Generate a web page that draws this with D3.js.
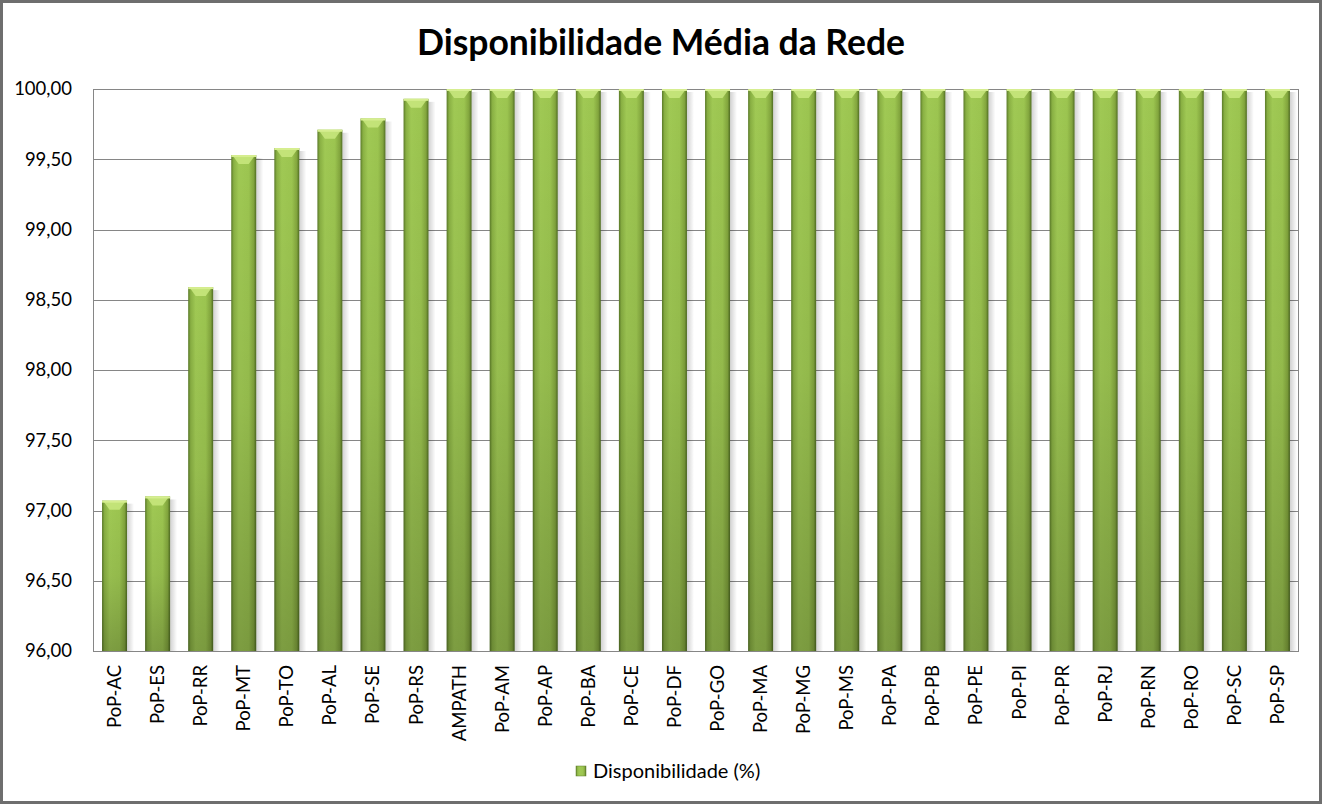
<!DOCTYPE html>
<html><head><meta charset="utf-8">
<script src="https://cdn.jsdelivr.net/npm/d3@7"></script>
<style>body{margin:0;background:#fff}svg{display:block}</style>
</head><body>
<script>
const categories = ["PoP-AC","PoP-ES","PoP-RR","PoP-MT","PoP-TO","PoP-AL","PoP-SE","PoP-RS","AMPATH","PoP-AM","PoP-AP","PoP-BA","PoP-CE","PoP-DF","PoP-GO","PoP-MA","PoP-MG","PoP-MS","PoP-PA","PoP-PB","PoP-PE","PoP-PI","PoP-PR","PoP-RJ","PoP-RN","PoP-RO","PoP-SC","PoP-SP"];
const values = [97.07,97.10,98.59,99.53,99.58,99.71,99.79,99.93,100,100,100,100,100,100,100,100,100,100,100,100,100,100,100,100,100,100,100,100];
const yTicks = [96,96.5,97,97.5,98,98.5,99,99.5,100];
const seriesName = "Disponibilidade (%)";
const title = "Disponibilidade Média da Rede";

const W=1324,H=806;
const svg=d3.select("body").append("svg").attr("width",W).attr("height",H);
const defs=svg.append("defs");
const hg=defs.append("linearGradient").attr("id","hg").attr("x1",0).attr("x2",1).attr("y1",0).attr("y2",0);
[[0,"#5a7a28"],[0.1,"#89b043"],[0.3,"#a0c954"],[0.7,"#9cc550"],[0.9,"#82a53d"],[1,"#4f6c22"]].forEach(([o,c])=>hg.append("stop").attr("offset",o).attr("stop-color",c));
const vg=defs.append("linearGradient").attr("id","vg").attr("x1",0).attr("x2",0).attr("y1",0).attr("y2",1);
[[0,"#000",0],[0.5,"#000",0.06],[1,"#000",0.22]].forEach(([o,c,a])=>vg.append("stop").attr("offset",o).attr("stop-color",c).attr("stop-opacity",a));
const sg=defs.append("linearGradient").attr("id","sg").attr("x1",0).attr("x2",1);
[[0,"#000",0.18],[1,"#000",0]].forEach(([o,c,a])=>sg.append("stop").attr("offset",o).attr("stop-color",c).attr("stop-opacity",a));

svg.append("rect").attr("x",1.5).attr("y",1.5).attr("width",W-5).attr("height",H-5).attr("fill","#fff").attr("stroke","#6e6e6e").attr("stroke-width",3);

const L=93,R=1299,T=89,B=651;
const x=d3.scaleBand().domain(categories).range([L,R]).paddingInner(0.42).paddingOuter(0.21);
const y=d3.scaleLinear().domain([96,100]).range([B,T]);

const font="Lato, 'Open Sans', sans-serif";
svg.append("text").attr("x",661).attr("y",55).attr("text-anchor","middle").attr("font-family",font).attr("font-weight","bold").attr("font-size",35.5).attr("fill","#000").text(title);

// gridlines
svg.append("g").selectAll("line").data(yTicks).join("line")
 .attr("x1",L).attr("x2",R).attr("y1",d=>Math.round(y(d))+0.5).attr("y2",d=>Math.round(y(d))+0.5)
 .attr("stroke","#868686").attr("stroke-width",1);
svg.append("rect").attr("x",L+0.5).attr("y",T+0.5).attr("width",R-L-1).attr("height",B-T).attr("fill","none").attr("stroke","#868686");

const fmt=d=>d3.format(".2f")(d).replace(".",",");
const yAxis=svg.append("g").attr("transform",`translate(${L},0)`).call(d3.axisLeft(y).tickValues(yTicks).tickFormat(fmt).tickSize(0).tickPadding(21));
yAxis.select(".domain").remove();
yAxis.selectAll("text").attr("font-family",font).attr("font-size",18.5).attr("fill","#000");

// bars
const g=svg.append("g");
const bw=x.bandwidth();
const data=categories.map((c,i)=>({c,v:values[i]}));
g.selectAll(".shadow").data(data).join("rect").attr("x",d=>x(d.c)+bw).attr("y",d=>y(d.v)+3).attr("width",7).attr("height",d=>B-y(d.v)-3).attr("fill","url(#sg)");
g.selectAll(".bar").data(data).join("rect").attr("x",d=>x(d.c)).attr("y",d=>y(d.v)).attr("width",bw).attr("height",d=>B-y(d.v)).attr("fill","url(#hg)");
g.selectAll(".shade").data(data).join("rect").attr("x",d=>x(d.c)).attr("y",d=>y(d.v)).attr("width",bw).attr("height",d=>B-y(d.v)).attr("fill","url(#vg)");
// top bevel
g.selectAll(".bevel").data(data).join("path")
 .attr("d",d=>{const x0=x(d.c),y0=y(d.v);return `M${x0+1},${y0} L${x0+bw-1},${y0} L${x0+bw/2+5},${y0+9} L${x0+bw/2-5},${y0+9} Z`;})
 .attr("fill","#c6e57c").attr("opacity",0.9);
g.selectAll(".topline").data(data).join("rect").attr("x",d=>x(d.c)).attr("y",d=>y(d.v)).attr("width",bw).attr("height",2).attr("fill","#d6ee90");

// x labels
const xAxis=svg.append("g").attr("transform",`translate(0,${B})`).call(d3.axisBottom(x).tickSize(0).tickPadding(0));
xAxis.select(".domain").remove();
xAxis.selectAll("text").attr("font-family",font).attr("font-size",18.5).attr("fill","#000")
 .attr("transform","rotate(-90)").attr("text-anchor","end").attr("dy","0.35em").attr("x",-14).attr("y",0);

// legend
const lg=svg.append("g");
lg.append("rect").attr("x",576).attr("y",766).attr("width",10).attr("height",10).attr("fill","url(#hg)").attr("stroke","#5f7f2c").attr("stroke-width",0.5);
lg.append("text").attr("x",593).attr("y",778).attr("font-family",font).attr("font-size",20).attr("fill","#000").text(seriesName);
</script>
</body></html>
